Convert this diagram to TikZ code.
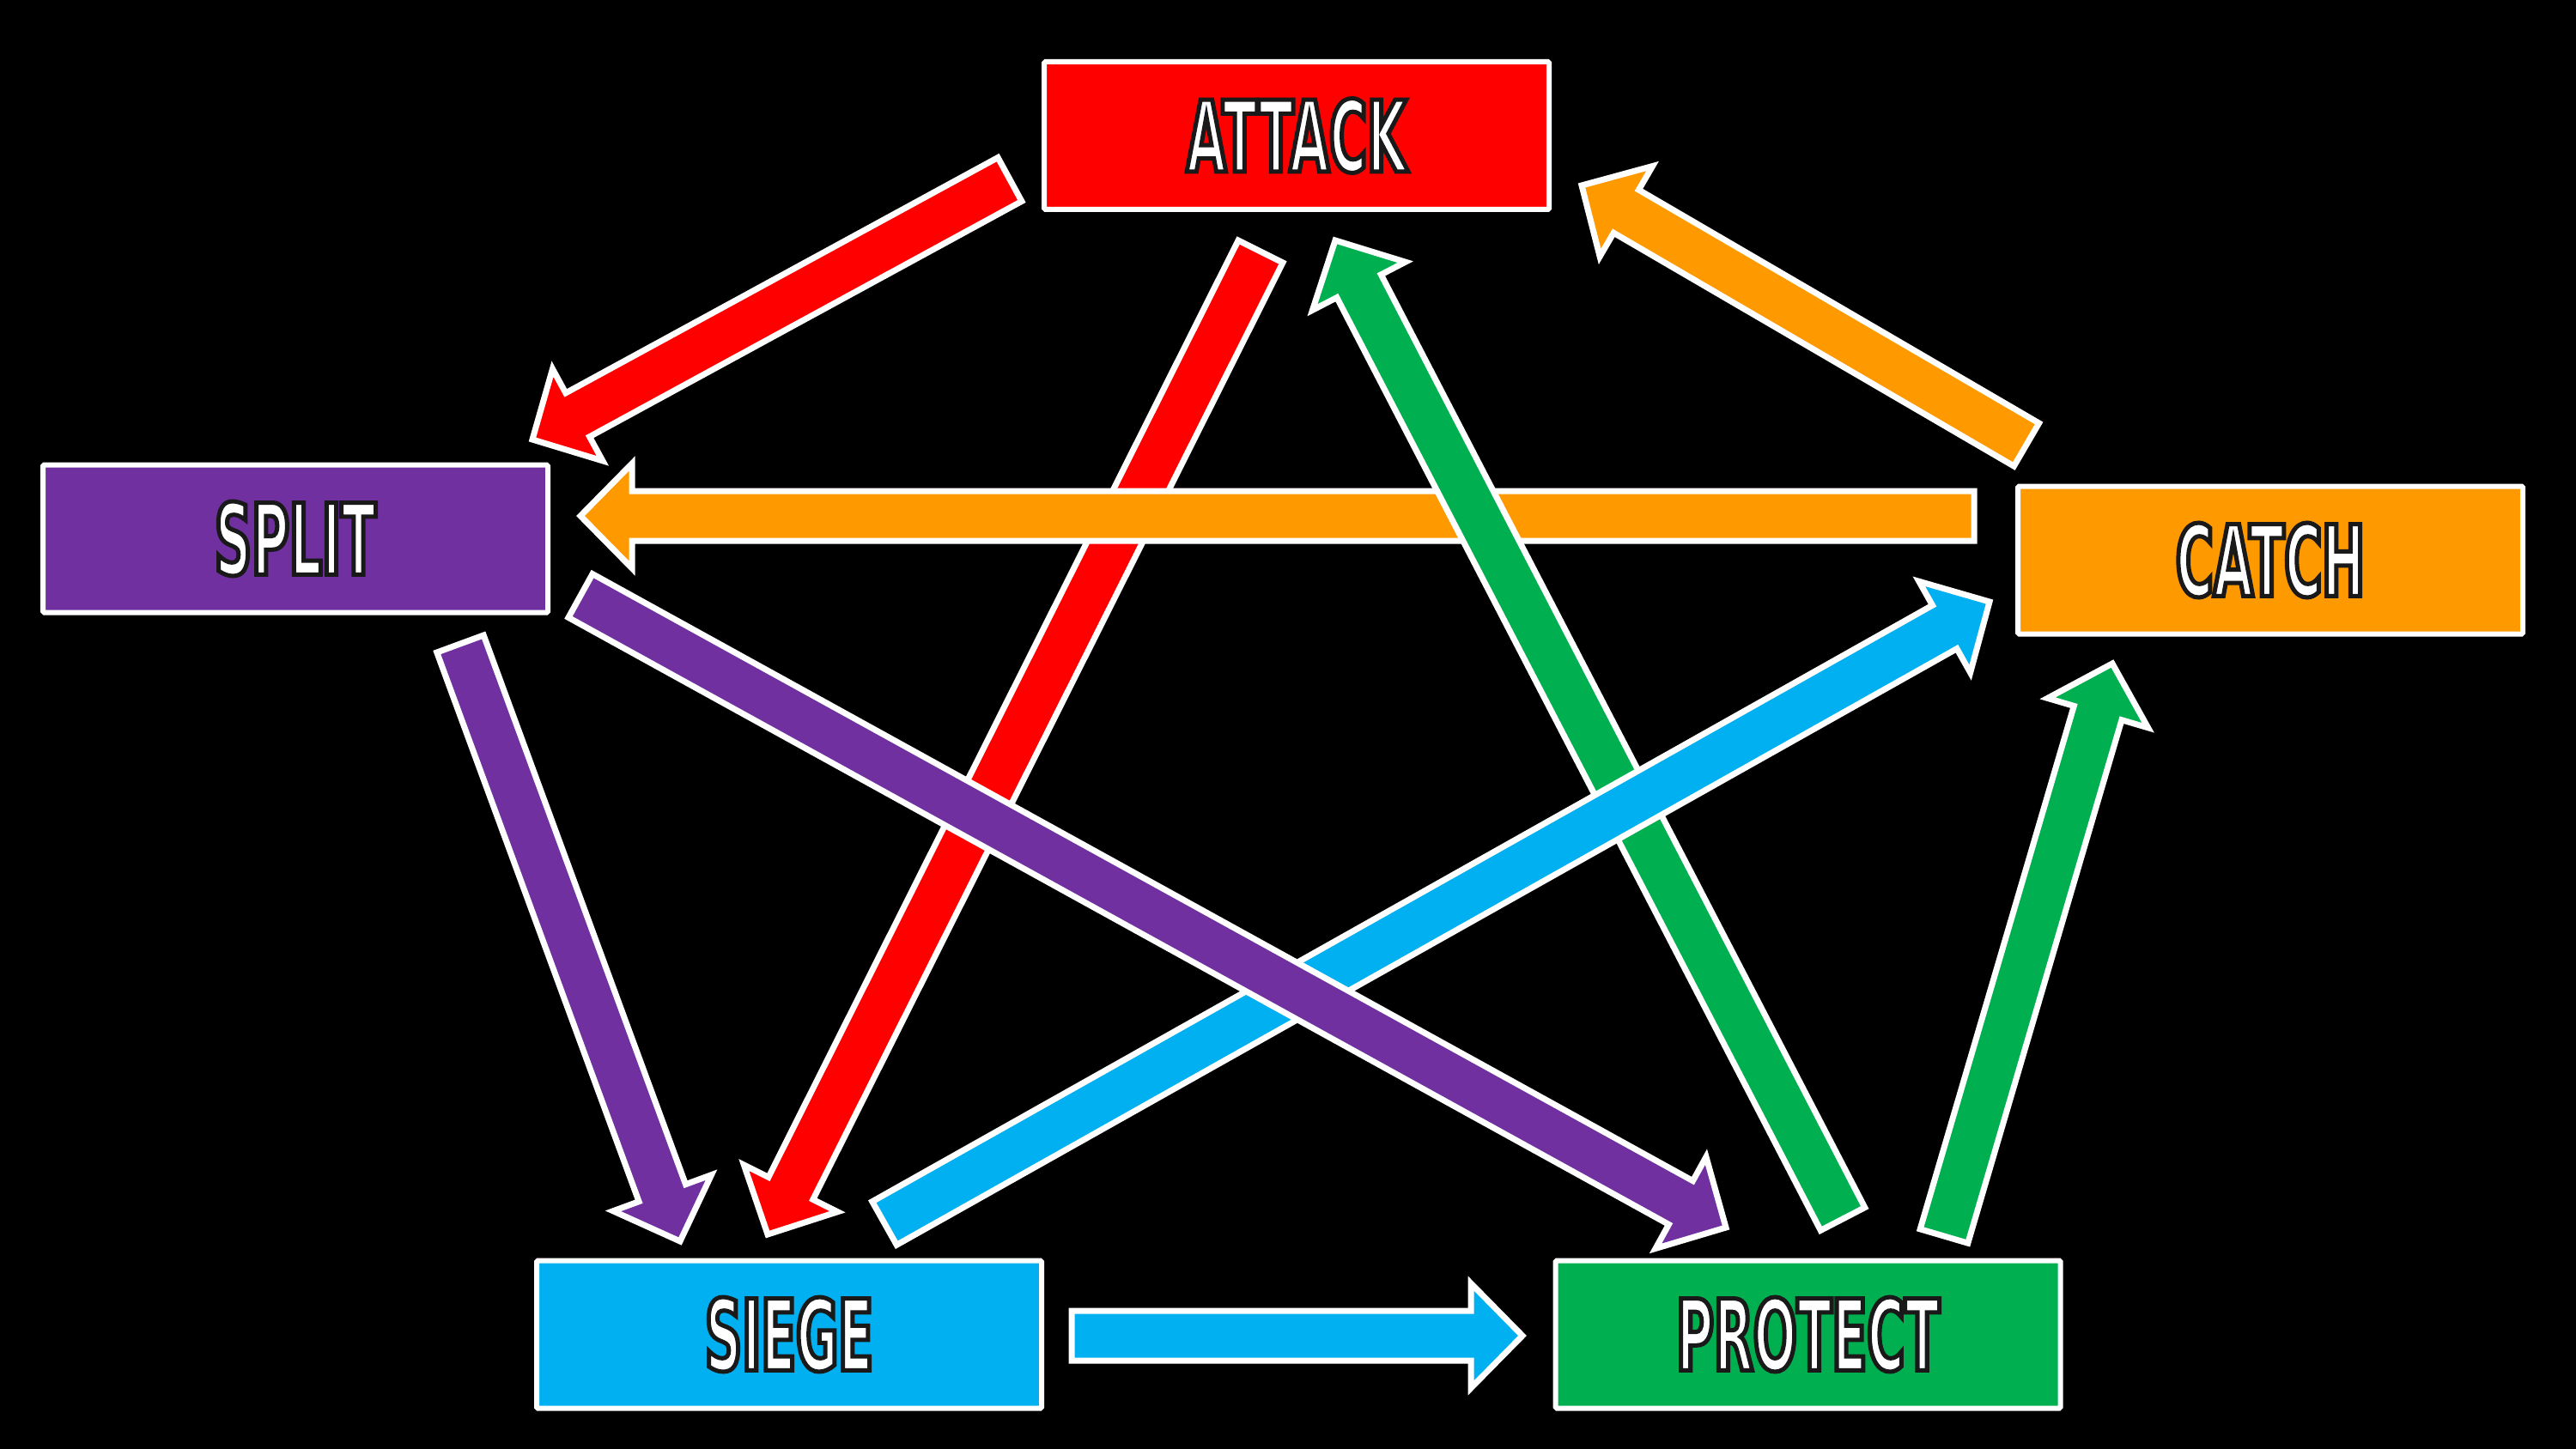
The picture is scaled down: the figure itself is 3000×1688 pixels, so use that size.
\documentclass[tikz,border=0pt]{standalone}
\usepackage{fontspec}
\usetikzlibrary{calc}
\newfontfamily\lblfont[FakeStretch=0.52]{DejaVu Sans Bold}
\newcommand{\outlined}[1]{\special{pdf:literal direct 2 Tr 5 w 0.1 0.1 0.1 RG}#1\special{pdf:literal direct 0 Tr}}
\definecolor{cred}{HTML}{FF0000}
\definecolor{cpurple}{HTML}{7030A0}
\definecolor{corange}{HTML}{FF9900}
\definecolor{cblue}{HTML}{00B0F0}
\definecolor{cgreen}{HTML}{00B050}
\tikzset{
  box/.style={draw=white, line width=6pt, rounded corners=1.5pt,
    minimum width=588pt, minimum height=172pt, inner sep=0pt,
    text=white, font=\lblfont\fontsize{115}{120}\selectfont},
  blockarrowstyle/.style={draw=white, line width=7pt, line join=miter}
}
\newcommand{\blockarrow}[3]{%
  \coordinate (hb) at ($(#3)!60pt!(#2)$);
  \filldraw[blockarrowstyle, fill=#1]
    ($(#2)!29pt!90:(#3)$) -- ($(hb)!29pt!90:(#3)$) -- ($(hb)!61pt!90:(#3)$) --
    (#3) -- ($(hb)!61pt!-90:(#3)$) -- ($(hb)!29pt!-90:(#3)$) --
    ($(#2)!29pt!-90:(#3)$) -- cycle;}
\begin{document}
\begin{tikzpicture}[x=1pt,y=-1pt]
\useasboundingbox (0,0) rectangle (3000,1688);
\fill[black] (0,0) rectangle (3000,1688);

% boxes
\node[box, fill=cred]    (attack)  at (1510,158)    {\outlined{ATTACK}};
\node[box, fill=cpurple] (split)   at (344,627.5)   {\outlined{SPLIT}};
\node[box, fill=corange] (catch)   at (2644,652.5)  {\outlined{CATCH}};
\node[box, fill=cblue]   (siege)   at (919,1554.5)  {\outlined{SIEGE}};
\node[box, fill=cgreen]  (protect) at (2105.5,1554.5) {\outlined{PROTECT}};

% arrow end points
\coordinate (a1s) at (1176,209);  \coordinate (a1e) at (620,512);
\coordinate (a2s) at (1468,293);  \coordinate (a2e) at (894,1438);
\coordinate (a3s) at (2146,1420); \coordinate (a3e) at (1555,280);
\coordinate (a4s) at (2360,518);  \coordinate (a4e) at (1842,216);
\coordinate (a5s) at (2299,601);  \coordinate (a5e) at (676,601);
\coordinate (a6s) at (676,694);   \coordinate (a6e) at (2010,1430);
\coordinate (a7s) at (536,750);   \coordinate (a7e) at (792,1446);
\coordinate (a8s) at (1030,1425); \coordinate (a8e) at (2317,701);
\coordinate (a9s) at (1248,1556); \coordinate (a9e) at (1773,1556);
\coordinate (a10s) at (2264,1440); \coordinate (a10e) at (2460,773);

% arrows, bottom to top
\blockarrow{cred}{a1s}{a1e}
\blockarrow{cred}{a2s}{a2e}
\blockarrow{corange}{a4s}{a4e}
\blockarrow{corange}{a5s}{a5e}
\blockarrow{cgreen}{a3s}{a3e}
\blockarrow{cgreen}{a10s}{a10e}
\blockarrow{cblue}{a8s}{a8e}
\blockarrow{cblue}{a9s}{a9e}
\blockarrow{cpurple}{a6s}{a6e}
\blockarrow{cpurple}{a7s}{a7e}
\end{tikzpicture}
\end{document}
